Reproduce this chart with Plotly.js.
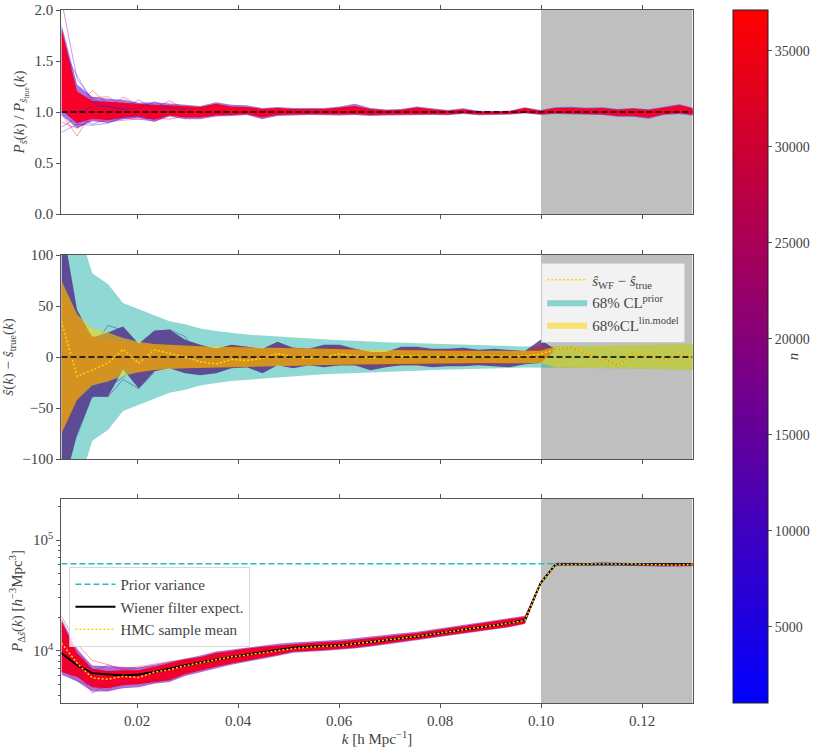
<!DOCTYPE html>
<html>
<head>
<meta charset="utf-8">
<script src="https://cdn.plot.ly/plotly-3.0.1.min.js"></script>
<style>body { margin: 0; background: #fff; }</style>
</head>
<body>
<div id="chart" style="width:830px;height:750px;"></div>
<script>
// wavenumber bins
const k = [0.0050, 0.0081, 0.0111, 0.0142, 0.0172, 0.0203, 0.0234, 0.0264, 0.0295, 0.0325, 0.0356, 0.0387, 0.0417, 0.0448,
    0.0478, 0.0509, 0.0540, 0.0570, 0.0601, 0.0631, 0.0662, 0.0693, 0.0723, 0.0754, 0.0784, 0.0815, 0.0846, 0.0876,
    0.0907, 0.0937, 0.0968, 0.0999, 0.1029, 0.1060, 0.1090, 0.1121, 0.1152, 0.1182, 0.1213, 0.1243, 0.1274, 0.1305];
const kRange = [0.005, 0.13];
const maskedRange = [0.1, 0.13];
const kTicks = [0.02, 0.04, 0.06, 0.08, 0.1, 0.12];
const kTickLabels = ["0.02", "0.04", "0.06", "0.08", "0.10", "0.12"];
const sampleRange = [1040, 37130];
const sampleTicks = [5000, 10000, 15000, 20000, 25000, 30000, 35000];

// top panel: power spectrum ratio, spread of the samples
const ratioOuterUp = [1.86, 1.27, 1.15, 1.13, 1.12, 1.09, 1.095, 1.08, 1.07, 1.06, 1.095, 1.07, 1.065, 1.04, 1.05, 1.04, 1.04, 1.04, 1.055, 1.08, 1.04,
    1.025, 1.03, 1.055, 1.036, 1.02, 1.036, 1.013, 1.01, 1.013, 1.046, 1.02, 1.046, 1.052, 1.042, 1.046, 1.03, 1.04, 1.026, 1.052, 1.075, 1.036];
const ratioCoreUp = [1.82, 1.2, 1.11, 1.10, 1.09, 1.075, 1.07, 1.065, 1.055, 1.05, 1.08, 1.055, 1.05, 1.03, 1.04, 1.03, 1.03, 1.03, 1.045, 1.06, 1.03,
    1.018, 1.022, 1.045, 1.028, 1.012, 1.028, 1.006, 1.005, 1.008, 1.038, 1.012, 1.038, 1.04, 1.034, 1.036, 1.022, 1.032, 1.02, 1.044, 1.065, 1.03];
const ratioCoreLow = [1.02, 0.89, 0.935, 0.92, 0.945, 0.955, 0.925, 0.965, 0.945, 0.945, 0.965, 0.97, 0.978, 0.945, 0.97, 0.975, 0.978, 0.978, 0.975, 0.978, 0.97,
    0.973, 0.978, 0.978, 0.978, 0.975, 0.987, 0.975, 0.975, 0.98, 0.99, 0.978, 0.987, 0.987, 0.98, 0.978, 0.963, 0.963, 0.945, 0.978, 0.987, 0.97];
const ratioOuterLow = [0.97, 0.84, 0.91, 0.895, 0.93, 0.94, 0.905, 0.955, 0.93, 0.93, 0.955, 0.96, 0.97, 0.93, 0.96, 0.965, 0.97, 0.97, 0.965, 0.97, 0.96,
    0.965, 0.97, 0.97, 0.97, 0.967, 0.98, 0.967, 0.967, 0.974, 0.987, 0.97, 0.98, 0.98, 0.974, 0.97, 0.954, 0.954, 0.935, 0.97, 0.98, 0.96];

// top panel: single samples that stick out of the bundle
const ratioPurpleLines = [
    [2.1, 1.32, 1.13, 1.06],
    [0.85, 0.95, 0.88, 0.93, 0.94, 0.93, 0.91, 0.97]
];
const ratioRedLines = [
    [0.98, 0.765, 1.0, 1.02],
    [1.2, 1.05, 1.21, 1.08, 1.02],
    [1.3, 1.1, 1.0, 1.03, 1.145, 1.07, 1.04, 1.11, 1.03],
    [0.9, 0.84, 0.93, 0.9, 0.92, 0.93, 0.94, 0.93, 0.96],
    [1.1, 0.92, 1.14, 1.15, 1.05, 1.03]
];
const ratioBlueLines = [
    [1.62, 1.36, 1.1, 1.05, 1.03, 1.12, 1.03, 1.04],
    [1.0, 1.0, 1.05, 1.06, 1.02, 1.04, 1.10, 1.04, 1.03],
    [0.8, 0.88, 0.87, 0.89, 0.95, 0.95, 0.93]
];

// middle panel: 68% CL half widths
const priorHalfWidth = [260, 130, 82, 71.6, 53, 47, 41, 35, 32, 28, 25.5, 23.5, 22, 21, 20, 19, 18, 17, 16.5, 16, 15, 14.5, 14, 13.5, 12.7,
    12.2, 11.7, 11.3, 11, 10.7, 10.4, 10.2, 10.2, 10.4, 10.6, 10.8, 11, 11.3, 11.6, 11.9, 12.2, 12.7];
const linModelHalfWidth = [75, 42, 28, 24, 18.6, 15, 12.7, 11.8, 11, 10.5, 10, 9.8, 9.5, 9.2, 8.8, 8.5, 8.2, 8, 7.7, 7.4, 7, 6.8, 6.6, 6.5, 6.3,
    6.2, 6.1, 6, 6, 6, 6, 6.2, 10.2, 10.4, 10.6, 10.8, 11, 11.3, 11.6, 11.9, 12.2, 12.7];

// middle panel: samples, these collapse onto one curve above k = 0.103
const residualOuterUp = [135, 46, 19, 24, 30, 13, 26, 27, 17, 12, 8, 12, 10, 8, 15, 9, 8, 12, 12, 8, 5, 5, 10, 10, 8, 8, 9, 7, 8, 7, 6, 17, 7];
const residualOuterLow = [-135, -76, -39, -39, -12, -31, -14, -11, -16, -18, -16, -11, -10, -16, -8, -11, -8, -10, -8, -8, -13, -10, -8, -8, -10, -9, -9, -8, -9, -10, -7, -6, 7];
const residualCoreUp = [72, 40, 20, 18, 16, 13, 13, 12, 11, 11, 8, 11, 10, 8, 10, 9, 8, 9, 9, 8, 5, 5, 8, 8, 7, 7, 7, 6, 6, 6, 6, 11, 7];
const residualCoreLow = [-75, -42, -25, -24, -12, -16, -13, -11, -11, -11, -10, -10, -10, -9, -8, -9, -8, -8, -8, -8, -8, -8, -8, -8, -7, -7, -7, -7, -7, -7, -6, -5, 7];
const residualLines = [
    [20, 10, 8, 31, 26, 5, 8],
    [-90, -77, -38, -39, -22, -31, -15],
    [-60, -30, -40, -30, -20, -5, -14],
    [0, 5, 3, 2, 5, 2, 10, 27, 20, -5]
];
const residualWF = [35, -19, -12.7, -6, 7.5, -6, 7, 3.5, 0, -4.6, -7, -2.3, -3.6, -1.3, 3.5, 0, -1, 0, 3, 1, -1, 0, 1, 1, 0, 0.5, 1, 0.5, 1, 0.5, 1, 3,
    7, 9, 3, -1, -8, 3, 1, -2, 1, -1];

// bottom panel: variance
const priorVariance = [61000, 61000];
const wienerExpect = [9550, 7430, 6300, 6130, 6010, 6130, 6450, 6900, 7430, 7850, 8350, 8830, 9250, 9700, 10200, 10700, 10900, 11050, 11250, 11600, 12000,
    12500, 13000, 13500, 14100, 14900, 15500, 16200, 17000, 17800, 19000, 40900, 60500, 60500, 60500, 60500, 60500, 60500, 60500, 60500, 60500, 60500];
const hmcMean = [11750, 7760, 5700, 5550, 5890, 5750, 6450, 6770, 7350, 7800, 8300, 8850, 9200, 9650, 10100, 10500, 10800, 11000, 11200, 11600, 12000,
    12500, 13000, 13500, 14100, 14800, 15500, 16200, 17000, 17800, 18900, 40900, 60500, 60000, 60500, 61000, 60500, 60800, 60000, 60000, 59500, 60500];
const varCoreUp = [18500, 9550, 6900, 6600, 6700, 6700, 7180, 7760, 8400, 8800, 9550, 10000, 10500, 10870, 11200, 11600, 11800, 12000, 12200, 12600, 13000,
    13500, 14000, 14500, 15200, 16000, 16700, 17500, 18400, 19200, 20300, 41800, 61500, 62000, 61000, 62500, 61500, 62000, 61000, 61500, 61000, 61500];
const varCoreLow = [6450, 5820, 4700, 4600, 4900, 5000, 5250, 5440, 6170, 6600, 7180, 7700, 8200, 8700, 9200, 9800, 10000, 10200, 10400, 10700, 11100,
    11500, 12000, 12500, 13100, 13800, 14400, 15000, 15800, 16500, 17700, 40000, 59500, 59000, 59500, 59500, 59500, 59500, 58500, 58500, 58000, 59000];
const varOuterUp = [19500, 10300, 7400, 7300, 7300, 7100, 7500, 8000, 8600, 9100, 9900, 10300, 10800, 11200, 11600, 11900, 12100, 12300, 12600, 13000, 13400,
    13900, 14400, 14900, 15600, 16400, 17100, 17900, 18800, 19600, 20700, 42500, 62500, 62500, 62000, 63000, 62500, 62500, 61500, 62000, 62500, 62000];
const varOuterLow = [6100, 5300, 4300, 4300, 4600, 4700, 5050, 5250, 5950, 6400, 6950, 7500, 8000, 8500, 9000, 9600, 9800, 10000, 10200, 10500, 10900,
    11300, 11800, 12300, 12900, 13600, 14200, 14800, 15600, 16300, 17500, 39500, 58500, 58500, 58500, 59000, 59000, 58500, 58000, 57500, 57500, 58000];
const varRedLines = [
    [20500, 11500, 8200, 7500, 6900, 7200, 7600, 8000, 8300],
    [6500, 6600, 4140, 5200, 5400, 5500]
];
const varPurpleLines = [
    [7000, 5400, 4800, 4400, 5500],
    [15000, 10500, 6500, 7430, 6700, 7000, 7300]
];

const RED_LINE = "rgba(255,0,40,0.4)";
const BLUE_LINE = "rgba(50,30,235,0.4)";
const PURPLE_LINE = "rgba(170,20,170,0.45)";
const TEXT_COLOR = "#444";
const AXIS_COLOR = "#555";
// the colorbar pushes the plot area in by its own width, domains are relative to what is left
const PLOT_WIDTH = 733;

const band = (xaxis, yaxis, upper, lower, color, extra = {}) => {
    const xs = k.slice(0, upper.length);
    return Object.assign({
        x: xs.concat(xs.slice().reverse()),
        y: upper.concat(lower.slice().reverse()),
        xaxis: xaxis, yaxis: yaxis,
        mode: "lines", fill: "toself", fillcolor: color,
        line: { width: 0 }, hoverinfo: "skip", showlegend: false
    }, extra);
};

const thinLine = (xaxis, yaxis, values, color) => ({
    x: k.slice(0, values.length), y: values,
    xaxis: xaxis, yaxis: yaxis,
    mode: "lines", line: { color: color, width: 1 }, hoverinfo: "skip", showlegend: false
});

const traces = [];

// Top panel
traces.push(band("x", "y", ratioOuterUp, ratioOuterLow, "rgba(95,30,215,0.6)"));
traces.push(band("x", "y", ratioCoreUp, ratioCoreLow, "#f8002a"));
for (let l of ratioPurpleLines) traces.push(thinLine("x", "y", l, PURPLE_LINE));
for (let l of ratioRedLines) traces.push(thinLine("x", "y", l, RED_LINE));
for (let l of ratioBlueLines) traces.push(thinLine("x", "y", l, BLUE_LINE));
traces.push({
    x: kRange, y: [1, 1], xaxis: "x", yaxis: "y", mode: "lines",
    line: { color: "#000", width: 1.6, dash: "6px,3px" }, hoverinfo: "skip", showlegend: false
});

// Middle panel
traces.push(band("x2", "y2", priorHalfWidth, priorHalfWidth.map(v => -v), "rgba(32,178,170,0.5)", {
    name: "68% CL<sup>prior</sup>", showlegend: true, legend: "legend2", legendrank: 2
}));
traces.push(band("x2", "y2", residualOuterUp, residualOuterLow, "rgba(80,40,130,0.8)"));
for (let l of residualLines) traces.push(thinLine("x2", "y2", l, "rgba(70,90,170,0.6)"));
traces.push(band("x2", "y2", residualCoreUp, residualCoreLow, "rgba(170,60,60,0.85)"));
traces.push(band("x2", "y2", linModelHalfWidth, linModelHalfWidth.map(v => -v), "rgba(255,215,0,0.55)", {
    name: "68%CL<sup>lin.model</sup>", showlegend: true, legend: "legend2", legendrank: 3
}));
traces.push({
    x: k.slice(32), y: residualWF.slice(32), xaxis: "x2", yaxis: "y2", mode: "lines",
    line: { color: "rgba(205,130,50,0.9)", width: 1 }, hoverinfo: "skip", showlegend: false
});
traces.push({
    x: k, y: residualWF, xaxis: "x2", yaxis: "y2", mode: "lines", name: "<i>ŝ</i><sub>WF</sub> − <i>ŝ</i><sub>true</sub>",
    line: { color: "#ffd700", width: 1.5, dash: "2px,2px" }, legend: "legend2", legendrank: 1, hoverinfo: "skip"
});
traces.push({
    x: kRange, y: [0, 0], xaxis: "x2", yaxis: "y2", mode: "lines",
    line: { color: "#000", width: 1.6, dash: "6px,3px" }, hoverinfo: "skip", showlegend: false
});

// Bottom panel
traces.push(band("x3", "y3", varOuterUp, varOuterLow, "rgba(110,20,190,0.6)"));
traces.push(band("x3", "y3", varCoreUp, varCoreLow, "#f0002c"));
for (let l of varRedLines) traces.push(thinLine("x3", "y3", l, RED_LINE));
for (let l of varPurpleLines) traces.push(thinLine("x3", "y3", l, PURPLE_LINE));
traces.push({
    x: kRange, y: priorVariance, xaxis: "x3", yaxis: "y3", mode: "lines", name: "Prior variance",
    line: { color: "#22bdb5", width: 1.6, dash: "6px,3px" }, hoverinfo: "skip"
});
traces.push({
    x: k, y: wienerExpect, xaxis: "x3", yaxis: "y3", mode: "lines", name: "Wiener filter expect.",
    line: { color: "#000", width: 2 }, hoverinfo: "skip"
});
traces.push({
    x: k, y: hmcMean, xaxis: "x3", yaxis: "y3", mode: "lines", name: "HMC sample mean",
    line: { color: "#ffd700", width: 1.5, dash: "2px,2px" }, hoverinfo: "skip"
});

// Only here for the colorbar
traces.push({
    x: [kRange[0]], y: [1], xaxis: "x", yaxis: "y", mode: "markers", showlegend: false, hoverinfo: "skip",
    marker: {
        size: 1, opacity: 0, color: [sampleRange[0]], cmin: sampleRange[0], cmax: sampleRange[1],
        colorscale: [[0, "#0000ff"], [1, "#ff0000"]],
        colorbar: {
            xref: "container", yref: "container",
            x: 733 / 830, xanchor: "left", xpad: 0,
            y: 1 - 10 / 750, yanchor: "top", ypad: 0,
            len: 693 / 750, lenmode: "fraction",
            thickness: 35, thicknessmode: "pixels",
            outlinecolor: "#222", outlinewidth: 1,
            tickmode: "array", tickvals: sampleTicks, ticktext: sampleTicks.map(String),
            ticks: "outside", ticklen: 4, tickcolor: AXIS_COLOR,
            tickfont: { size: 14 },
            title: { text: "<i>n</i>", side: "right", font: { size: 15 } }
        }
    }
});

const xAxis = (anchor, showLabels, extra = {}) => Object.assign({
    domain: [61.5 / PLOT_WIDTH, 693 / PLOT_WIDTH], range: kRange, anchor: anchor,
    tickmode: "array", tickvals: kTicks, ticktext: kTickLabels, showticklabels: showLabels,
    ticks: "outside", ticklen: 4, tickcolor: AXIS_COLOR, linecolor: AXIS_COLOR, linewidth: 1.2,
    mirror: "ticks", showgrid: false, zeroline: false
}, extra);

const yAxis = (anchor, top, bottom, extra = {}) => Object.assign({
    domain: [1 - bottom / 750, 1 - top / 750], anchor: anchor,
    ticks: "outside", ticklen: 4, tickcolor: AXIS_COLOR, linecolor: AXIS_COLOR, linewidth: 1.2,
    mirror: true, showgrid: false, zeroline: false
}, extra);

const maskedSpan = (xref, yref) => ({
    type: "rect", xref: xref, yref: yref + " domain", x0: maskedRange[0], x1: maskedRange[1], y0: 0, y1: 1,
    fillcolor: "rgba(128,128,128,0.5)", line: { width: 0 }, layer: "below"
});

const layout = {
    width: 830, height: 750,
    margin: { l: 0, r: 0, t: 0, b: 0 },
    paper_bgcolor: "#fff", plot_bgcolor: "#fff",
    font: { family: "'Liberation Serif', serif", size: 15, color: TEXT_COLOR },
    hovermode: false,
    xaxis: xAxis("y", false),
    xaxis2: xAxis("y2", false),
    xaxis3: xAxis("y3", true, {
        title: { text: "<i>k</i> [h Mpc<sup>−1</sup>]", font: { size: 15 }, standoff: 3 }
    }),
    yaxis: yAxis("x", 10, 214, {
        range: [0, 2], tickmode: "array", tickvals: [0, 0.5, 1, 1.5, 2], ticktext: ["0.0", "0.5", "1.0", "1.5", "2.0"],
        title: { text: "<i>P</i><sub><i>ŝ</i></sub>(<i>k</i>) / <i>P</i><sub><i>ŝ</i><sub>true</sub></sub>(<i>k</i>)", font: { size: 15 }, standoff: 6 }
    }),
    yaxis2: yAxis("x2", 255, 459, {
        range: [-100, 100], tickmode: "array", tickvals: [-100, -50, 0, 50, 100],
        title: { text: "<i>ŝ</i>(<i>k</i>) − <i>ŝ</i><sub>true</sub>(<i>k</i>)", font: { size: 15 }, standoff: 6 }
    }),
    yaxis3: yAxis("x3", 499, 703, {
        type: "log", range: [3.53, 5.37],
        tickmode: "array", tickvals: [10000, 100000], ticktext: ["10<sup>4</sup>", "10<sup>5</sup>"],
        minor: {
            ticks: "outside", ticklen: 2, tickcolor: AXIS_COLOR, tickmode: "array",
            tickvals: [4000, 5000, 6000, 7000, 8000, 9000, 20000, 30000, 40000, 50000, 60000, 70000, 80000, 90000, 200000]
        },
        title: { text: "<i>P</i><sub>Δ<i>ŝ</i></sub>(<i>k</i>) [<i>h</i><sup>−3</sup>Mpc<sup>3</sup>]", font: { size: 15 }, standoff: 6 }
    }),
    shapes: [maskedSpan("x", "y"), maskedSpan("x2", "y2"), maskedSpan("x3", "y3")],
    legend: {
        x: 69.5 / PLOT_WIDTH, xanchor: "left", y: 1 - 567 / 750, yanchor: "top",
        bgcolor: "rgba(255,255,255,0.8)", bordercolor: "rgba(204,204,204,0.8)", borderwidth: 1,
        font: { size: 15 }, itemwidth: 40, tracegroupgap: 0
    },
    legend2: {
        x: 541.5 / PLOT_WIDTH, xanchor: "left", y: 1 - 262.5 / 750, yanchor: "top",
        bgcolor: "rgba(255,255,255,0.8)", bordercolor: "rgba(204,204,204,0.8)", borderwidth: 1,
        font: { size: 15 }, itemwidth: 40, tracegroupgap: 0
    }
};

Plotly.newPlot("chart", traces, layout, { displayModeBar: false, staticPlot: true });
</script>
</body>
</html>
